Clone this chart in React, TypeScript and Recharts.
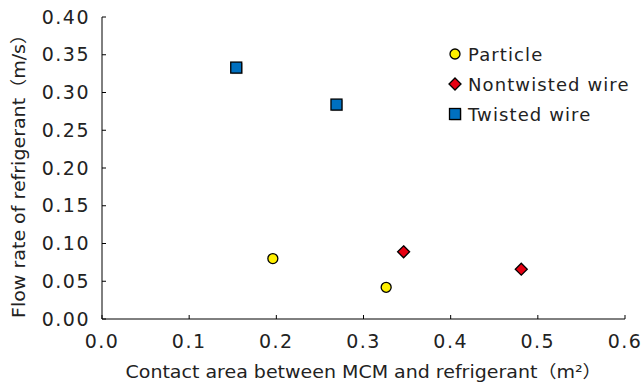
import { ScatterChart, Scatter, XAxis, YAxis } from 'recharts'

const FONT = '"DejaVu Sans", "Noto Sans CJK JP", sans-serif'

// values
const particleX = [0.196, 0.326]
const particleY = [0.080, 0.042]
const nontwistedX = [0.346, 0.481]
const nontwistedY = [0.089, 0.066]
const twistedX = [0.154, 0.269]
const twistedY = [0.333, 0.284]

const xTicks = [0, 0.1, 0.2, 0.3, 0.4, 0.5, 0.6]
const yTicks = [0, 0.05, 0.1, 0.15, 0.2, 0.25, 0.3, 0.35, 0.4]

const xTitle = 'Contact area between MCM and refrigerant（m²）'
const yTitle = 'Flow rate of refrigerant（m/s）'

const toPoints = (xs: number[], ys: number[]) => xs.map((x, i) => ({ x, y: ys[i] }))

const CircleMark = ({ cx, cy }: any) => (
  <circle cx={cx} cy={cy} r={5} fill="#FFF000" stroke="#000" strokeWidth={1.3} />
)
const DiamondMark = ({ cx, cy }: any) => (
  <path
    d={`M${cx},${cy - 6}L${cx + 6},${cy}L${cx},${cy + 6}L${cx - 6},${cy}Z`}
    fill="#E60012"
    stroke="#000"
    strokeWidth={1.3}
  />
)
const SquareMark = ({ cx, cy }: any) => (
  <g>
    <rect x={cx - 4.5} y={cy - 4.5} width={11} height={11} fill="#bbb" />
    <rect x={cx - 5.5} y={cy - 5.5} width={11} height={11} fill="#0070C0" stroke="#000" strokeWidth={1.3} />
  </g>
)

const series = [
  { name: 'Particle', data: toPoints(particleX, particleY), shape: CircleMark },
  { name: 'Nontwisted wire', data: toPoints(nontwistedX, nontwistedY), shape: DiamondMark },
  { name: 'Twisted wire', data: toPoints(twistedX, twistedY), shape: SquareMark },
]

function LegendBox() {
  return (
    <div
      style={{
        position: 'absolute',
        left: 447,
        top: 39,
        fontFamily: FONT,
        fontSize: 18,
        color: '#222',
        letterSpacing: 1.1,
      }}
    >
      {series.map(s => (
        <div key={s.name} style={{ display: 'flex', alignItems: 'center', height: 30.2 }}>
          <svg width={16} height={16} style={{ marginRight: 5 }}>
            <s.shape cx={8} cy={8} />
          </svg>
          <span>{s.name}</span>
        </div>
      ))}
    </div>
  )
}

const tickStyle = { fill: '#222', fontSize: 19, fontFamily: FONT, letterSpacing: 1.5 }

export default function App() {
  return (
    <div style={{ position: 'absolute', left: 0, top: 0, width: 643, height: 387, background: '#fff' }}>
      <ScatterChart width={643} height={387} margin={{ top: 17, right: 18, bottom: 0, left: 0 }}>
        <XAxis
          type="number"
          dataKey="x"
          domain={[0, 0.6]}
          ticks={xTicks}
          tickFormatter={(v: number) => v.toFixed(1)}
          tickSize={-4}
          tickMargin={20}
          height={68}
          stroke="#000"
          tick={tickStyle}
          label={() => (
            <text
              x={363.5}
              y={378}
              textAnchor="middle"
              textLength={476}
              lengthAdjust="spacingAndGlyphs"
              style={{ fontFamily: FONT, fontSize: 17, fill: '#222' }}
            >
              {xTitle}
            </text>
          )}
        />
        <YAxis
          type="number"
          dataKey="y"
          domain={[0, 0.4]}
          ticks={yTicks}
          tickFormatter={(v: number) => v.toFixed(2)}
          tickSize={-4}
          tickMargin={16}
          width={102}
          stroke="#000"
          tick={tickStyle}
          label={() => (
            <text
              x={0}
              y={0}
              transform="translate(25,171.5) rotate(-90)"
              textAnchor="middle"
              textLength={293}
              lengthAdjust="spacingAndGlyphs"
              style={{ fontFamily: FONT, fontSize: 17, fill: '#222' }}
            >
              {yTitle}
            </text>
          )}
        />
        {series.map(s => (
          <Scatter
            key={s.name}
            name={s.name}
            data={s.data}
            shape={s.shape}
            isAnimationActive={false}
          />
        ))}
      </ScatterChart>
      <LegendBox />
    </div>
  )
}
